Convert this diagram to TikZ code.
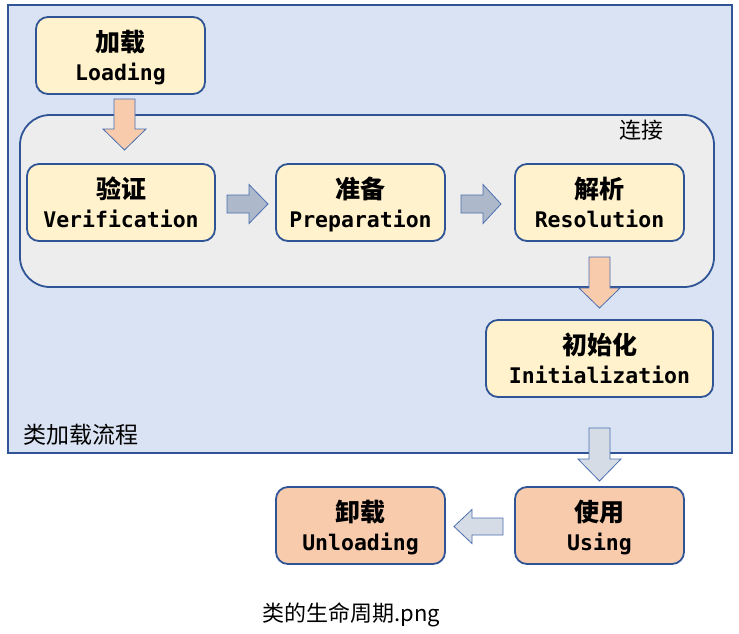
\documentclass[tikz,border=0pt]{standalone}
\usepackage{fontspec}
\newfontfamily\cjk{Noto Sans CJK SC}
\newfontfamily\latmono{DejaVu Sans Mono}
\definecolor{frameblue}{HTML}{2F5597}
\definecolor{flowfill}{HTML}{DAE3F3}
\definecolor{grayfill}{HTML}{EDEDED}
\definecolor{yellowfill}{HTML}{FFF2CC}
\definecolor{orangefill}{HTML}{F8CBAD}
\definecolor{arrline}{HTML}{4A6FB0}
\definecolor{slatefill}{HTML}{ADB9CA}
\definecolor{palefill}{HTML}{D6DCE5}
\tikzset{
  frame/.style={draw=frameblue, line width=2pt, fill=flowfill, inner sep=0pt, rectangle},
  grp/.style={draw=frameblue, line width=1.8pt, fill=grayfill, inner sep=0pt, rounded corners=30pt, rectangle},
  box/.style={draw=frameblue, line width=1.8pt, inner sep=0pt, rounded corners=12pt, rectangle},
  ybox/.style={box, fill=yellowfill},
  obox/.style={box, fill=orangefill},
  cjklbl/.style={inner sep=0pt, font=\cjk\bfseries\fontsize{25}{30}\selectfont},
  latlbl/.style={inner sep=0pt, font=\latmono\bfseries\fontsize{21.5}{25}\selectfont},
  plainlbl/.style={inner sep=0pt, font=\cjk\fontsize{22}{26}\selectfont},
  orarrow/.style={fill=orangefill, draw=arrline, line width=0.8pt, line join=miter},
  slarrow/.style={fill=slatefill, draw=arrline, line width=0.8pt, line join=miter},
  palarrow/.style={fill=palefill, draw=arrline, line width=0.8pt, line join=miter},
}
% #1 name, #2 style, #3 x1, #4 y1, #5 x2, #6 y2, #7 cjk, #8 latin
\newcommand\stagebox[8]{%
  \node[#2, minimum width=#5-#3, minimum height=#6-#4] (#1) at ({(#3+#5)/2},{(#4+#6)/2}) {};
  \node[cjklbl, anchor=base] (#1-cn) at ([yshift=4pt]#1.center) {#7};
  \node[latlbl, anchor=base] (#1-en) at ([yshift=-25pt]#1.center) {#8};
}
% #1 style, #2 cx, #3 ytop, #4 yhead, #5 ytip, #6 half shaft, #7 half head
\newcommand\blkdown[7]{%
  \draw[#1] (#2-#6,#3) -- (#2+#6,#3) -- (#2+#6,#4) -- (#2+#7,#4) -- (#2,#5) -- (#2-#7,#4) -- (#2-#6,#4) -- cycle;
}
% #1 style, #2 cy, #3 xstart, #4 xhead, #5 xtip, #6 half shaft, #7 half head
\newcommand\blkhoriz[7]{%
  \draw[#1] (#3,#2-#6) -- (#4,#2-#6) -- (#4,#2-#7) -- (#5,#2) -- (#4,#2+#7) -- (#4,#2+#6) -- (#3,#2+#6) -- cycle;
}
\begin{document}
\begin{tikzpicture}[x=1pt,y=-1pt]
\useasboundingbox (0,0) rectangle (739,633);
\fill[white] (0,0) rectangle (739,633);

% class loading group
\node[frame, minimum width=724pt, minimum height=448pt] (flow) at (369.5,228.5) {};
\node[plainlbl, font=\cjk\fontsize{23}{26}\selectfont] (flowlbl) at (81,434.5) {类加载流程};

% linking group
\node[grp, minimum width=694pt, minimum height=172pt] (link) at (367,201) {};
\node[plainlbl] (linklbl) at (641.5,130) {连接};

% stages
\stagebox{load}{ybox}{36}{17}{205}{94}{加载}{Loading}
\stagebox{verify}{ybox}{27}{164}{215}{241}{验证}{Verification}
\stagebox{prep}{ybox}{276}{164}{445}{241}{准备}{Preparation}
\stagebox{resol}{ybox}{515}{164}{684}{241}{解析}{Resolution}
\stagebox{init}{ybox}{486}{320}{713}{397}{初始化}{Initialization}
\stagebox{using}{obox}{515}{487}{684}{564}{使用}{Using}
\stagebox{unload}{obox}{276}{487}{445}{564}{卸载}{Unloading}

% block arrows
\blkdown{orarrow}{124.5}{99}{129}{150}{10.5}{21.5}
\blkhoriz{slarrow}{204}{227}{249}{268}{9}{19.5}
\blkhoriz{slarrow}{204}{461}{483}{501}{9}{19.5}
\blkdown{orarrow}{599.5}{257}{288}{308}{10.5}{20.5}
\blkdown{palarrow}{599.5}{428}{459}{481}{10.5}{21.5}
\blkhoriz{palarrow}{526.5}{503}{472}{454}{8.5}{17}

% caption
\node[plainlbl] (caption) at (351.5,615) {类的生命周期.png};
\end{tikzpicture}
\end{document}
